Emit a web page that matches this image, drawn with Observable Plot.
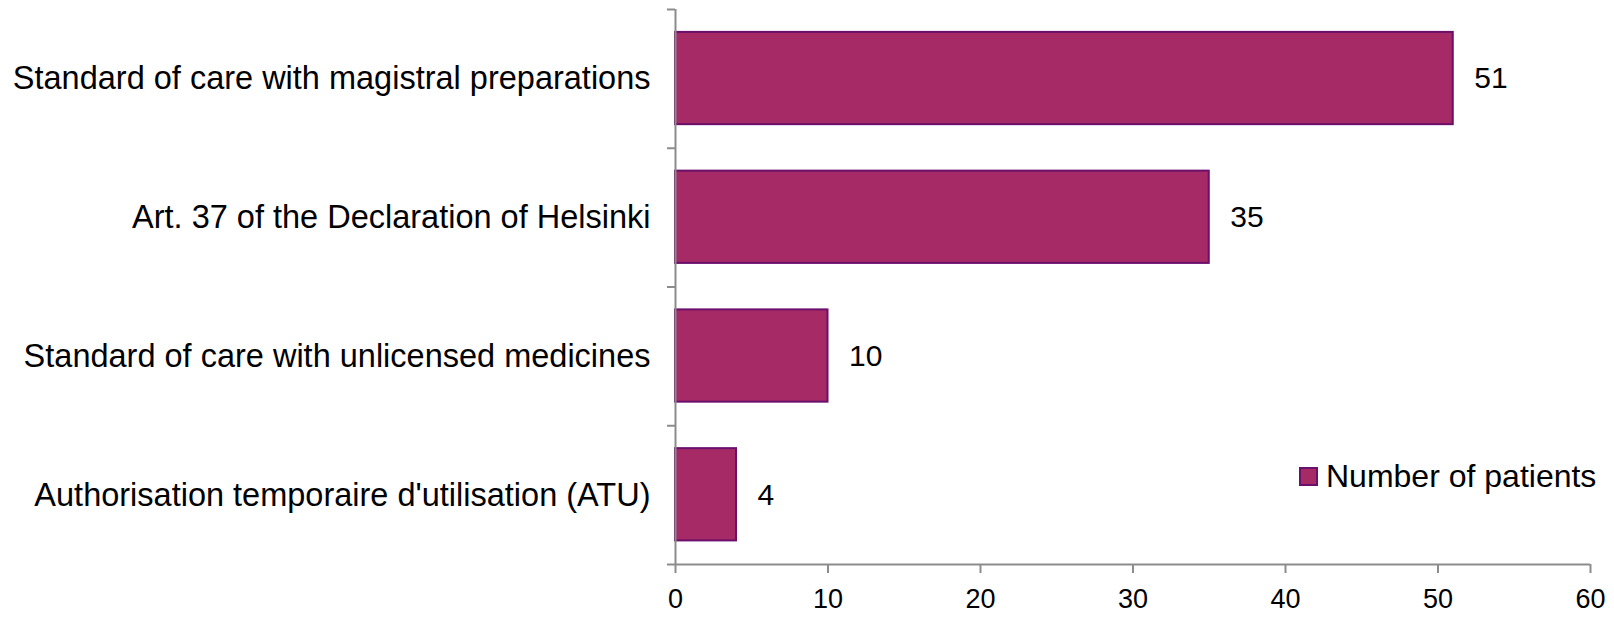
<!DOCTYPE html>
<html>
<head>
<meta charset="utf-8">
<script src="https://cdn.jsdelivr.net/npm/d3@7"></script>
<script src="https://cdn.jsdelivr.net/npm/@observablehq/plot@0.6"></script>
<style>
  html, body { margin: 0; padding: 0; background: #fff; }
  #wrap { position: relative; width: 1614px; height: 618px; font-family: "Liberation Sans", Arial, sans-serif; }
  #legend { position: absolute; left: 1299px; top: 458px; display: flex; align-items: center; font-size: 32px; color: #000; white-space: nowrap; }
  #legend .sw { width: 15px; height: 15px; background: #a52a66; border: 2px solid #6b0f6b; margin-right: 8px; }
</style>
</head>
<body>
<div id="wrap"></div>
<script>
const categories = [
  "Standard of care with magistral preparations",
  "Art. 37 of the Declaration of Helsinki",
  "Standard of care with unlicensed medicines",
  "Authorisation temporaire d'utilisation (ATU)"
];
const patients = [51, 35, 10, 4];
const xTicks = [0, 10, 20, 30, 40, 50, 60];
const seriesName = "Number of patients";

const data = categories.map((c, i) => ({ category: c, value: patients[i], i }));
const axisGray = "#8c8c8c";
const barFill = "#a52a66";
const barStroke = "#6b0f6b";

const chart = Plot.plot({
  width: 1614,
  height: 618,
  marginTop: 9,
  marginBottom: 54,
  marginLeft: 675,
  marginRight: 24,
  style: { fontFamily: "'Liberation Sans', Arial, sans-serif", color: "#000", background: "#fff" },
  x: { domain: [0, 60], label: null },
  y: { domain: [0, categories.length], reverse: true, label: null },
  marks: [
    Plot.rect(data, {
      x1: 0, x2: "value",
      y1: d => d.i + 0.165, y2: d => d.i + 0.83,
      fill: barFill, stroke: barStroke, strokeWidth: 2
    }),
    Plot.ruleX([0], { y1: 0, y2: categories.length, stroke: axisGray, strokeWidth: 2 }),
    Plot.ruleY([categories.length], { x1: 0, x2: 60, stroke: axisGray, strokeWidth: 2 }),
    Plot.axisY({
      ticks: d3.range(categories.length + 1),
      tickSize: 8, tickFormat: () => "", stroke: axisGray, strokeWidth: 2, label: null
    }),
    Plot.axisY({
      ticks: categories.map((c, i) => i + 0.5),
      tickSize: 0, tickPadding: 25,
      tickFormat: v => categories[Math.floor(v)],
      fontSize: 32.5, fill: "#000", label: null
    }),
    Plot.axisX({
      ticks: xTicks, tickSize: 9, tickPadding: 15,
      stroke: axisGray, strokeWidth: 2, fontSize: 27, fill: "#000",
      tickFormat: d => String(d), label: null
    }),
    Plot.text(data, {
      x: "value", y: d => d.i + 0.5,
      text: d => String(d.value),
      dx: 21, textAnchor: "start", fontSize: 30, fill: "#000"
    })
  ]
});

const wrap = document.getElementById("wrap");
wrap.appendChild(chart);
const legend = document.createElement("div");
legend.id = "legend";
legend.innerHTML = `<span class="sw"></span><span></span>`;
legend.lastChild.textContent = seriesName;
wrap.appendChild(legend);
</script>
</body>
</html>
